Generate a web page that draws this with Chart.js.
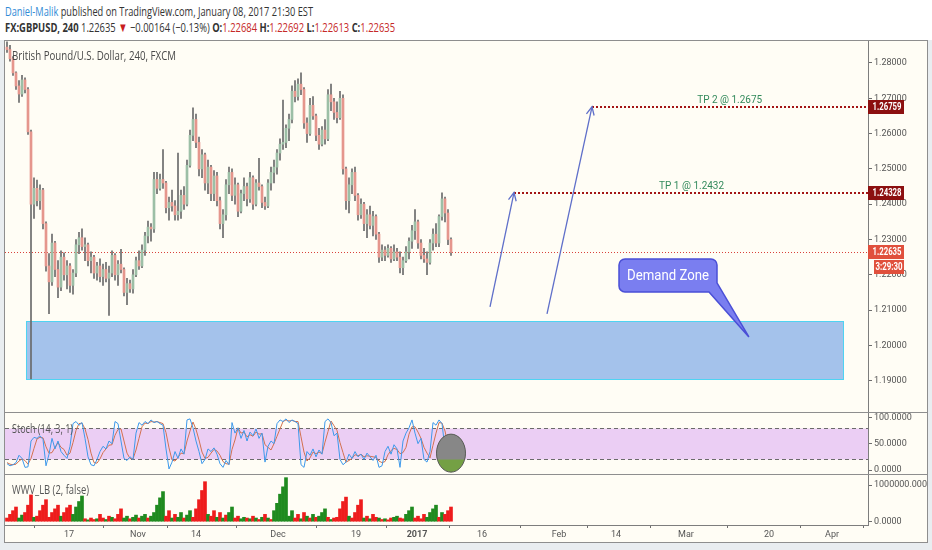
<!DOCTYPE html>
<html>
<head>
<meta charset="utf-8">
<script src="https://cdn.jsdelivr.net/npm/chart.js@4.4.0/dist/chart.umd.min.js"></script>
<style>
html, body { margin: 0; padding: 0; }
body { width: 932px; height: 550px; background: #e9edf0; position: relative; overflow: hidden;
       font-family: 'Liberation Sans Narrow', 'Open Sans', sans-serif; color: #333; }
#head { position: absolute; left: 0; top: 0; width: 932px; height: 40px; background: #fff; }
.txt { position: absolute; white-space: nowrap; transform-origin: 0 50%; z-index: 5; }
#frame { position: absolute; left: 4px; top: 40px; width: 924px; height: 503px; box-sizing: border-box;
         border: 1px solid #8e8e8e; background: #fffdf5; }
.sep { position: absolute; left: 4px; width: 924px; height: 1px; background: #8e8e8e; z-index: 4; }
canvas { position: absolute; }
.r { color: #c62828; }
</style>
</head>
<body>
<div id="head"></div>
<div id="frame"></div>
<canvas id="cMain" width="922" height="371" style="left:5px;top:41px"></canvas>
<div class="sep" style="top:412px"></div>
<canvas id="cStoch" width="922" height="61" style="left:5px;top:413px"></canvas>
<div class="sep" style="top:474px"></div>
<canvas id="cVol" width="922" height="66" style="left:5px;top:475px"></canvas>

<div id="h1" class="txt" style="left:5px;top:3px;font-size:13px;line-height:16px">
<span style="color:#2f8bd6">Daniel-Malik</span> published on TradingView.com, January 08, 2017 21:30 EST</div>
<div id="h2" class="txt" style="left:5px;top:19px;font-size:13px;line-height:16px">
<b>FX:GBPUSD, 240</b> 1.22635 <span style="color:#c81e1e">&#9660;</span> &minus;0.00164 (&minus;0.13%) <b>O:</b><span class="r">1.22684</span> <b>H:</b><span class="r">1.22692</span> <b>L:</b><span class="r">1.22613</span> <b>C:</b><span class="r">1.22635</span></div>
<div id="tTitle" class="txt" style="left:12px;top:47px;font-size:13px;line-height:16px;color:#4a4a4a">British Pound/U.S. Dollar, 240, FXCM</div>
<div id="tStoch" class="txt" style="left:12px;top:421px;font-size:12px;line-height:15px;color:#555">Stoch (14, 3, 1)</div>
<div id="tWwv" class="txt" style="left:12px;top:482px;font-size:12px;line-height:15px;color:#555">WWV_LB (2, false)</div>

<script>
// 4h-ish candles, left to right
var opens = [1.2845,1.2838,1.2812,1.2772,1.2735,1.2712,1.2752,1.2725,1.2605,1.2400,
  1.2445,1.2410,1.2440,1.2345,1.2225,1.2180,1.2290,1.2215,1.2165,1.2250,
  1.2200,1.2225,1.2170,1.2205,1.2285,1.2305,1.2280,1.2285,1.2240,1.2250,
  1.2205,1.2225,1.2195,1.2215,1.2190,1.2205,1.2255,1.2200,1.2230,1.2215,
  1.2150,1.2175,1.2160,1.2200,1.2240,1.2225,1.2270,1.2310,1.2335,1.2330,
  1.2470,1.2445,1.2470,1.2460,1.2390,1.2405,1.2395,1.2370,1.2380,1.2425,
  1.2400,1.2510,1.2595,1.2640,1.2575,1.2500,1.2540,1.2460,1.2505,1.2430,
  1.2480,1.2410,1.2345,1.2370,1.2455,1.2490,1.2425,1.2455,1.2380,1.2430,
  1.2450,1.2415,1.2475,1.2400,1.2460,1.2450,1.2405,1.2395,1.2460,1.2490,
  1.2505,1.2545,1.2570,1.2575,1.2615,1.2640,1.2720,1.2705,1.2740,1.2725,
  1.2630,1.2600,1.2680,1.2650,1.2595,1.2570,1.2610,1.2585,1.2710,1.2690,
  1.2660,1.2645,1.2700,1.2500,1.2410,1.2455,1.2490,1.2425,1.2370,1.2400,
  1.2345,1.2370,1.2340,1.2365,1.2315,1.2250,1.2270,1.2255,1.2275,1.2245,
  1.2265,1.2250,1.2220,1.2240,1.2265,1.2295,1.2325,1.2350,1.2290,1.2255,
  1.2245,1.2235,1.2290,1.2315,1.2290,1.2365,1.2415,1.2375,1.2300];
var highs = [1.2860,1.2850,1.2818,1.2775,1.2750,1.2765,1.2758,1.2730,1.2610,1.2475,
  1.2468,1.2455,1.2445,1.2350,1.2260,1.2315,1.2295,1.2240,1.2268,1.2262,
  1.2240,1.2232,1.2215,1.2300,1.2320,1.2330,1.2305,1.2290,1.2265,1.2255,
  1.2235,1.2245,1.2230,1.2235,1.2225,1.2268,1.2260,1.2240,1.2272,1.2220,
  1.2190,1.2185,1.2215,1.2250,1.2268,1.2285,1.2320,1.2352,1.2345,1.2490,
  1.2490,1.2485,1.2555,1.2465,1.2420,1.2440,1.2410,1.2545,1.2440,1.2450,
  1.2525,1.2610,1.2673,1.2655,1.2590,1.2555,1.2545,1.2525,1.2510,1.2495,
  1.2490,1.2420,1.2385,1.2470,1.2505,1.2500,1.2475,1.2460,1.2440,1.2475,
  1.2460,1.2490,1.2480,1.2470,1.2530,1.2455,1.2420,1.2470,1.2505,1.2525,
  1.2555,1.2585,1.2695,1.2625,1.2655,1.2735,1.2750,1.2755,1.2772,1.2730,
  1.2645,1.2700,1.2705,1.2655,1.2615,1.2620,1.2640,1.2725,1.2740,1.2700,
  1.2690,1.2720,1.2710,1.2505,1.2475,1.2500,1.2505,1.2430,1.2415,1.2405,
  1.2385,1.2395,1.2380,1.2370,1.2320,1.2285,1.2280,1.2285,1.2280,1.2285,
  1.2275,1.2265,1.2250,1.2280,1.2305,1.2340,1.2385,1.2355,1.2300,1.2275,
  1.2265,1.2300,1.2330,1.2345,1.2370,1.2432,1.2420,1.2385,1.2305];
var lows = [1.2830,1.2805,1.2765,1.2725,1.2688,1.2705,1.2715,1.2598,1.1905,1.2360,
  1.2395,1.2385,1.2330,1.2210,1.2090,1.2170,1.2195,1.2135,1.2155,1.2185,
  1.2160,1.2150,1.2145,1.2195,1.2260,1.2270,1.2240,1.2225,1.2205,1.2190,
  1.2185,1.2180,1.2170,1.2180,1.2085,1.2195,1.2185,1.2170,1.2205,1.2140,
  1.2115,1.2150,1.2148,1.2195,1.2215,1.2220,1.2255,1.2290,1.2295,1.2320,
  1.2430,1.2440,1.2445,1.2375,1.2355,1.2380,1.2355,1.2355,1.2360,1.2385,
  1.2395,1.2505,1.2580,1.2560,1.2480,1.2475,1.2440,1.2430,1.2410,1.2410,
  1.2395,1.2330,1.2305,1.2355,1.2430,1.2410,1.2400,1.2365,1.2375,1.2410,
  1.2395,1.2405,1.2385,1.2395,1.2440,1.2390,1.2385,1.2390,1.2440,1.2460,
  1.2485,1.2525,1.2555,1.2560,1.2580,1.2630,1.2690,1.2695,1.2710,1.2615,
  1.2575,1.2595,1.2640,1.2580,1.2555,1.2565,1.2570,1.2580,1.2665,1.2640,
  1.2630,1.2640,1.2485,1.2385,1.2375,1.2430,1.2410,1.2355,1.2360,1.2325,
  1.2305,1.2330,1.2310,1.2300,1.2235,1.2240,1.2240,1.2250,1.2235,1.2240,
  1.2240,1.2205,1.2200,1.2235,1.2245,1.2275,1.2300,1.2275,1.2245,1.2235,
  1.2200,1.2230,1.2270,1.2280,1.2280,1.2355,1.2350,1.2285,1.2255];
var closes = [1.2838,1.2812,1.2772,1.2735,1.2712,1.2752,1.2725,1.2605,1.2400,1.2445,
  1.2410,1.2440,1.2345,1.2225,1.2180,1.2290,1.2215,1.2165,1.2250,1.2200,
  1.2225,1.2170,1.2205,1.2285,1.2305,1.2280,1.2285,1.2240,1.2250,1.2205,
  1.2225,1.2195,1.2215,1.2190,1.2205,1.2255,1.2200,1.2230,1.2215,1.2150,
  1.2175,1.2160,1.2200,1.2240,1.2225,1.2270,1.2310,1.2335,1.2330,1.2470,
  1.2445,1.2470,1.2460,1.2390,1.2405,1.2395,1.2370,1.2380,1.2425,1.2400,
  1.2510,1.2595,1.2640,1.2575,1.2500,1.2540,1.2460,1.2505,1.2430,1.2480,
  1.2410,1.2345,1.2370,1.2455,1.2490,1.2425,1.2455,1.2380,1.2430,1.2450,
  1.2415,1.2475,1.2400,1.2460,1.2450,1.2405,1.2395,1.2460,1.2490,1.2505,
  1.2545,1.2570,1.2575,1.2615,1.2640,1.2720,1.2705,1.2740,1.2725,1.2630,
  1.2600,1.2680,1.2650,1.2595,1.2570,1.2610,1.2585,1.2710,1.2690,1.2660,
  1.2645,1.2700,1.2500,1.2410,1.2455,1.2490,1.2425,1.2370,1.2400,1.2345,
  1.2370,1.2340,1.2365,1.2315,1.2250,1.2270,1.2255,1.2275,1.2245,1.2265,
  1.2250,1.2220,1.2240,1.2265,1.2295,1.2325,1.2350,1.2290,1.2255,1.2245,
  1.2235,1.2290,1.2315,1.2290,1.2365,1.2415,1.2375,1.2300,1.22635];

// Stochastic %K and %D
var stochK = [12,8,10,14,28,22,5,6,55,62, 60,65,58,8,30,60,40,55,35,28,
  22,45,88,92,85,90,60,25,10,8, 20,35,45,40,55,50,92,88,55,22,
  18,25,20,70,90,85,92,88,95,90, 92,88,85,40,2,15,35,22,40,30,
  95,97,80,55,35,12,20,40,35,42, 30,12,5,18,10,90,70,80,60,75,
  55,72,65,78,60,70,15,45,55,50, 88,95,92,97,90,95,92,88,10,5,
  35,28,40,25,38,30,92,97,90,65, 70,20,10,15,30,22,35,25,30,20,
  32,25,18,28,5,8,35,45,30,48, 40,5,55,70,80,95,70,50,60,20,
  15,35,90,85,95,88,40,15,10];
var stochD = [14,11,10,11,17,21,18,11,22,41, 59,62,61,44,32,33,43,52,43,39,
  28,32,52,75,88,89,78,58,32,14, 13,21,33,40,47,48,66,77,78,55,
  32,22,21,38,60,82,89,88,92,91, 92,90,88,71,42,19,17,24,32,31,
  55,74,91,77,57,34,22,24,32,39, 36,28,16,12,11,39,57,80,70,72,
  63,67,64,72,68,69,48,43,38,50, 64,78,92,95,93,94,92,92,63,34,
  17,23,34,31,34,31,53,73,93,84, 75,52,33,15,18,22,29,27,30,25,
  27,26,25,24,17,14,16,29,37,41, 39,31,33,43,68,82,82,72,60,43,
  32,23,47,70,90,89,74,48,22];

// WWV_LB histogram, thousands; 1 = green, 0 = red
var volK = [100,200,300,400,100,180,250,450,730,120, 150,300,450,600,120,250,350,450,150,250,
  380,450,200,400,550,700,80,50,100,60, 80,200,100,60,150,120,80,200,350,100,
  150,80,120,180,100,150,200,100,150,250, 450,650,820,150,300,100,200,120,250,100,
  180,300,120,350,600,850,1090,200,150,300, 120,250,100,180,250,400,100,150,80,120,
  100,80,150,100,60,120,200,100,60,300, 500,750,950,1200,150,300,100,200,80,250,
  150,100,200,120,150,250,350,120,60,100, 120,350,550,670,150,100,250,450,600,100,
  150,80,200,120,100,60,80,50,100,120, 150,100,80,200,300,400,100,150,80,200,
  120,250,350,450,120,250,200,300,400];
var volUp = [0,0,0,0,1,1,0,0,0,1, 0,0,0,0,0,0,0,0,1,0, 0,0,1,1,1,1,0,1,0,0,
  1,0,0,1,0,1,0,0,0,1, 1,0,1,1,0,1,1,0,1,1, 1,1,1,0,0,1,0,1,1,0,
  1,1,0,0,0,0,0,1,0,0, 1,0,1,0,1,1,0,0,1,1, 0,1,0,1,0,1,0,1,0,1,
  1,1,1,1,1,1,0,0,1,0, 1,0,1,0,1,1,1,0,1,0, 0,0,0,0,1,0,0,0,0,1,
  0,1,0,0,1,0,1,0,0,1, 1,0,0,1,1,1,0,0,0,0, 1,1,1,1,0,1,0,0,0];

// axes (x in bar slots)
var xTickPos = [20.67, 43.67, 63, 90.33, 116.33, 136.67, 158.33, 184, 203, 226.33, 254, 275];
var xTickLabels = ['17', 'Nov', '14', 'Dec', '19', '2017', '16', 'Feb', '14', 'Mar', '20', 'Apr'];
var priceTicks = [1.19, 1.20, 1.21, 1.22, 1.23, 1.24, 1.25, 1.26, 1.27, 1.28];
var stochTicks = [0, 50, 100];
var volTicks = [0, 1000];

// drawings
var lastPrice = 1.22635;
var tpLevels = [1.24328, 1.26759];
var tpStart = [169, 195];
var tpLabels = ['TP 1 @ 1.2432', 'TP 2 @ 1.2675'];
var tpLabelX = [228.2, 240.9];
var arrowFrom = [[161, 1.2109], [180, 1.2089]];
var arrowTo = [[169, 1.2433], [195, 1.2676]];
var zoneX = [6.33, 278.8];
var zoneY = [1.1904, 1.2069];
var calloutAt = [204, 1.2245];
var calloutTip = [247.3, 1.2024];
var circleAt = [148, 32];

var X_MIN = -2 / 3, X_MAX = 287;

function hasFont(f) {
  var c = document.createElement('canvas').getContext('2d');
  var s = 'abcdefghijkmnw1.2345';
  c.font = '20px monospace';
  var a = c.measureText(s).width;
  c.font = '20px "' + f + '", monospace';
  return c.measureText(s).width !== a;
}
var NARROW = hasFont('Liberation Sans Narrow');
var FAM = NARROW ? "'Liberation Sans Narrow'" : 'Roboto';
var AX_FONT = { family: FAM, size: NARROW ? 10.5 : 9 };

function fit(id, w) {
  var el = document.getElementById(id);
  el.style.transform = 'scaleX(' + (w / el.getBoundingClientRect().width) + ')';
}
fit('h1', 308); fit('h2', 390); fit('tTitle', 164); fit('tStoch', 61); fit('tWwv', 77);

function fitText(ctx, text, cx, cy, w) {
  var m = ctx.measureText(text).width;
  ctx.save();
  ctx.translate(cx, cy);
  ctx.scale(w / m, 1);
  ctx.textAlign = 'center';
  ctx.textBaseline = 'middle';
  ctx.fillText(text, 0, 0);
  ctx.restore();
}

function xScale(show) {
  return {
    type: 'linear', min: X_MIN, max: X_MAX, bounds: 'data', offset: false, display: show,
    grid: { drawOnChartArea: false, drawTicks: true, tickLength: 3, color: '#6d6d6d' },
    border: { display: true, color: '#7d7d7d' },
    ticks: {
      autoSkip: false, maxRotation: 0, padding: 1, color: '#555',
      font: function (c) { return { family: FAM, size: AX_FONT.size, weight: (c.tick && c.tick.value === 136.67) ? 'bold' : 'normal' }; },
      callback: function (v, i) { return xTickLabels[i]; }
    },
    afterBuildTicks: function (s) { s.ticks = xTickPos.map(function (v) { return { value: v }; }); },
    afterFit: function (s) { s.paddingLeft = 0; s.paddingRight = 0; if (show) s.height = 16; }
  };
}

function yScale(min, max, ticks, fmt) {
  return {
    type: 'linear', position: 'right', min: min, max: max, bounds: 'data',
    grid: { drawOnChartArea: false, drawTicks: true, tickLength: 4, color: '#6d6d6d' },
    border: { display: true, color: '#7d7d7d' },
    ticks: { autoSkip: false, padding: 2, color: '#555', font: AX_FONT, callback: fmt },
    afterBuildTicks: function (s) { s.ticks = ticks.map(function (v) { return { value: v }; }); },
    afterFit: function (s) { s.width = 59; s.paddingTop = 0; s.paddingBottom = 0; }
  };
}

var baseOpts = {
  responsive: false, animation: false, events: [],
  layout: { padding: 0 },
  plugins: { legend: { display: false }, tooltip: { enabled: false } }
};

var mainDecor = {
  id: 'mainDecor',
  beforeDatasetsDraw: function (chart) {
    var ctx = chart.ctx, a = chart.chartArea, x = chart.scales.x, y = chart.scales.y;
    ctx.save();
    var x0 = x.getPixelForValue(zoneX[0]), x1 = x.getPixelForValue(zoneX[1]);
    var y0 = y.getPixelForValue(zoneY[1]), y1 = y.getPixelForValue(zoneY[0]);
    ctx.fillStyle = 'rgba(103,155,229,0.6)';
    ctx.fillRect(x0, y0, x1 - x0, y1 - y0);
    ctx.strokeStyle = '#4fd3f2';
    ctx.lineWidth = 1;
    ctx.strokeRect(Math.round(x0) + 0.5, Math.round(y0) + 0.5, Math.round(x1 - x0), Math.round(y1 - y0));
    var yl = Math.round(y.getPixelForValue(lastPrice)) + 0.5;
    ctx.strokeStyle = '#d9413b';
    ctx.setLineDash([1, 2]);
    ctx.beginPath(); ctx.moveTo(a.left, yl); ctx.lineTo(a.right, yl); ctx.stroke();
    ctx.restore();
  },
  afterDatasetsDraw: function (chart) {
    var ctx = chart.ctx, a = chart.chartArea, x = chart.scales.x, y = chart.scales.y;
    ctx.save();
    // take-profit lines and labels
    for (var i = 0; i < tpLevels.length; i++) {
      var py = Math.round(y.getPixelForValue(tpLevels[i]));
      ctx.strokeStyle = '#a31515';
      ctx.lineWidth = 2;
      ctx.setLineDash([2, 2]);
      ctx.beginPath(); ctx.moveTo(x.getPixelForValue(tpStart[i]), py); ctx.lineTo(a.right, py); ctx.stroke();
      ctx.setLineDash([]);
      ctx.fillStyle = '#338a5c';
      ctx.font = '11px ' + FAM;
      fitText(ctx, tpLabels[i], x.getPixelForValue(tpLabelX[i]), py - 7, 65);
    }
    // arrows
    ctx.strokeStyle = '#5f6fc9';
    ctx.lineWidth = 1.3;
    for (var j = 0; j < arrowFrom.length; j++) {
      var sx = x.getPixelForValue(arrowFrom[j][0]), sy = y.getPixelForValue(arrowFrom[j][1]);
      var ex = x.getPixelForValue(arrowTo[j][0]), ey = y.getPixelForValue(arrowTo[j][1]);
      var ang = Math.atan2(ey - sy, ex - sx);
      ctx.beginPath(); ctx.moveTo(sx, sy); ctx.lineTo(ex, ey); ctx.stroke();
      ctx.beginPath();
      ctx.moveTo(ex - 9 * Math.cos(ang - 0.45), ey - 9 * Math.sin(ang - 0.45));
      ctx.lineTo(ex, ey);
      ctx.lineTo(ex - 9 * Math.cos(ang + 0.45), ey - 9 * Math.sin(ang + 0.45));
      ctx.stroke();
    }
    // callout
    var bx = x.getPixelForValue(calloutAt[0]), by = y.getPixelForValue(calloutAt[1]);
    var tx = x.getPixelForValue(calloutTip[0]), ty = y.getPixelForValue(calloutTip[1]);
    var w = 98, h = 33, r = 6;
    ctx.beginPath();
    ctx.moveTo(bx + r, by);
    ctx.lineTo(bx + w - r, by);
    ctx.arcTo(bx + w, by, bx + w, by + r, r);
    ctx.lineTo(bx + w, by + 24);
    ctx.lineTo(tx, ty);
    ctx.lineTo(bx + 90, by + h);
    ctx.lineTo(bx + r, by + h);
    ctx.arcTo(bx, by + h, bx, by + h - r, r);
    ctx.lineTo(bx, by + r);
    ctx.arcTo(bx, by, bx + r, by, r);
    ctx.closePath();
    ctx.fillStyle = '#7a7ef0';
    ctx.fill();
    ctx.strokeStyle = '#4a4fd6';
    ctx.lineWidth = 1.5;
    ctx.stroke();
    ctx.fillStyle = '#ffffff';
    ctx.font = '15px ' + FAM;
    fitText(ctx, 'Demand Zone', bx + 49, by + 17, 82);
    ctx.restore();
  },
  afterDraw: function (chart) {
    var ctx = chart.ctx, a = chart.chartArea, y = chart.scales.y;
    ctx.save();
    var tags = [[tpLevels[1], '#8c1010'], [tpLevels[0], '#8c1010'], [lastPrice, '#e0503c']];
    ctx.font = 'bold 10px ' + FAM;
    for (var i = 0; i < tags.length; i++) {
      var py = Math.round(y.getPixelForValue(tags[i][0]));
      ctx.fillStyle = tags[i][1];
      ctx.fillRect(a.right, py - 7, 36, 14);
      ctx.fillStyle = '#ffffff';
      fitText(ctx, tags[i][0].toFixed(5), a.right + 19, py, 29);
    }
    var pl = Math.round(y.getPixelForValue(lastPrice));
    ctx.fillStyle = '#e0503c';
    ctx.fillRect(a.right + 6, pl + 8, 30, 14);
    ctx.fillStyle = '#ffffff';
    fitText(ctx, '3:29:30', a.right + 21, pl + 15, 27);
    ctx.restore();
  }
};

var UP = '#9cbfa6', DOWN = '#e5968d';
new Chart(document.getElementById('cMain'), {
  type: 'bar',
  data: {
    datasets: [
      { data: lows.map(function (l, i) { return { x: i, y: [l, highs[i]] }; }),
        backgroundColor: '#6a6a6a', barThickness: 1, grouped: false, order: 2 },
      { data: opens.map(function (o, i) { return { x: i, y: [o, closes[i]] }; }),
        backgroundColor: opens.map(function (o, i) { return closes[i] >= o ? UP : DOWN; }),
        barThickness: 2, minBarLength: 1, grouped: false, order: 1 }
    ]
  },
  options: Object.assign({}, baseOpts, {
    scales: { x: xScale(false), y: yScale(1.18113, 1.28623, priceTicks, function (v) { return v.toFixed(5); }) }
  }),
  plugins: [mainDecor]
});

var stochDecor = {
  id: 'stochDecor',
  beforeDatasetsDraw: function (chart) {
    var ctx = chart.ctx, a = chart.chartArea, y = chart.scales.y;
    var y80 = Math.round(y.getPixelForValue(80)) + 0.5, y20 = Math.round(y.getPixelForValue(20)) + 0.5;
    ctx.save();
    ctx.fillStyle = 'rgba(215,159,244,0.5)';
    ctx.fillRect(a.left, y80, a.right - a.left, y20 - y80);
    ctx.strokeStyle = '#6b6b6b';
    ctx.lineWidth = 1;
    ctx.setLineDash([4, 3]);
    ctx.beginPath();
    ctx.moveTo(a.left, y80); ctx.lineTo(a.right, y80);
    ctx.moveTo(a.left, y20); ctx.lineTo(a.right, y20);
    ctx.stroke();
    ctx.restore();
  },
  afterDatasetsDraw: function (chart) {
    var ctx = chart.ctx, x = chart.scales.x, y = chart.scales.y;
    var cx = x.getPixelForValue(circleAt[0]), cy = y.getPixelForValue(circleAt[1]);
    var y20 = Math.round(y.getPixelForValue(20)) + 0.5;
    ctx.save();
    ctx.beginPath();
    ctx.ellipse(cx, cy, 14.5, 19, 0, 0, Math.PI * 2);
    ctx.fillStyle = '#74a044';
    ctx.fill();
    ctx.save();
    ctx.clip();
    ctx.fillStyle = '#878787';
    ctx.fillRect(cx - 20, cy - 25, 40, y20 - (cy - 25));
    ctx.restore();
    ctx.strokeStyle = '#5a5a5a';
    ctx.lineWidth = 1;
    ctx.stroke();
    ctx.restore();
  }
};

new Chart(document.getElementById('cStoch'), {
  type: 'line',
  data: {
    datasets: [
      { data: stochD.map(function (v, i) { return { x: i, y: v }; }), borderColor: '#d2704f', borderWidth: 1, pointRadius: 0, order: 2 },
      { data: stochK.map(function (v, i) { return { x: i, y: v }; }), borderColor: '#3d98ea', borderWidth: 1, pointRadius: 0, order: 1 }
    ]
  },
  options: Object.assign({}, baseOpts, {
    scales: { x: xScale(false), y: yScale(-7.59, 108.16, stochTicks, function (v) { return v.toFixed(4); }) }
  }),
  plugins: [stochDecor]
});

new Chart(document.getElementById('cVol'), {
  type: 'bar',
  data: {
    datasets: [
      { data: volK.map(function (v, i) { return { x: i, y: v }; }),
        backgroundColor: volUp.map(function (u) { return u ? '#1f8a1f' : '#ee1c1c'; }),
        barThickness: 3, grouped: false }
    ]
  },
  options: Object.assign({}, baseOpts, {
    scales: { x: xScale(true), y: yScale(-89.9, 1272.5, volTicks, function (v) { return (v * 1000).toFixed(4); }) }
  })
});
</script>
</body>
</html>
